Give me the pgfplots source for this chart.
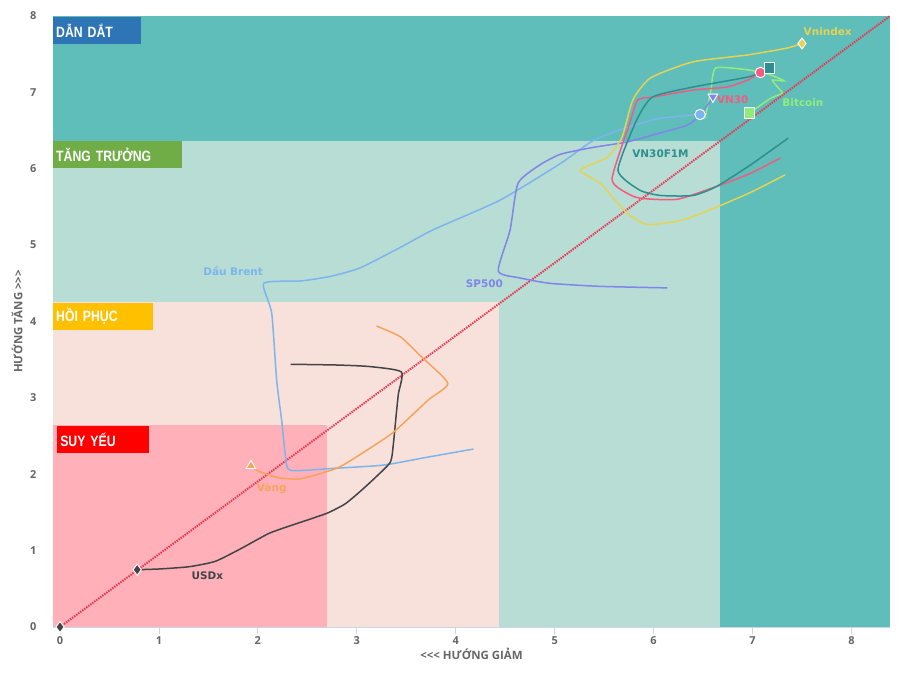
\documentclass[border=0pt]{standalone}
\usepackage{fontspec}
\setmainfont{Open Sans}
\newfontfamily\lab{DejaVu Sans}
\newfontfamily\boxfont[FakeStretch=0.82]{Liberation Sans}
\usepackage{pgfplots}
\pgfplotsset{compat=1.18}

\definecolor{bgteal}{RGB}{95,189,186}
\definecolor{bglteal}{RGB}{184,221,213}
\definecolor{bglpink}{RGB}{248,225,218}
\definecolor{bgpink}{RGB}{255,176,184}
\definecolor{boxblue}{RGB}{46,117,182}
\definecolor{boxgreen}{RGB}{112,173,71}
\definecolor{boxyellow}{RGB}{255,192,0}
\definecolor{boxred}{RGB}{255,0,0}
\definecolor{axisgray}{RGB}{204,214,235}
\definecolor{txtgray}{RGB}{102,102,102}
\definecolor{cbrent}{HTML}{7CB5EC}
\definecolor{cusd}{HTML}{434348}
\definecolor{cbtc}{HTML}{90ED7D}
\definecolor{cgold}{HTML}{F7A35C}
\definecolor{csp}{HTML}{8085E9}
\definecolor{cvn30}{HTML}{F15C80}
\definecolor{cvni}{HTML}{E4D354}
\definecolor{cf1m}{HTML}{2B908F}
\definecolor{diag}{RGB}{230,60,85}

\begin{document}
\begin{tikzpicture}
\begin{axis}[
    scale only axis, width=837bp, height=611bp,
    xmin=-0.071, xmax=8.39, ymin=0, ymax=8,
    clip=false, axis on top,
    axis x line*=bottom, axis y line*=left,
    x axis line style={draw=axisgray, line width=0.8pt, -},
    y axis line style={draw=none},
    xtick={0,...,8}, ytick={0,...,8},
    tick align=outside, major tick length=7bp,
    x tick style={draw=axisgray, line width=0.8pt},
    y tick style={draw=none},
    /pgf/number format/assume math mode=true,
    tick label style={font=\bfseries\fontsize{11}{13}\selectfont, text=txtgray},
    xticklabel style={yshift=1bp},
    yticklabel style={xshift=-6bp},
    xlabel={{<}{<}{<} HƯỚNG GIẢM},
    ylabel={HƯỚNG TĂNG {>}{>}{>}},
    label style={font=\bfseries\fontsize{11.5}{13}\selectfont, text=txtgray},
    xlabel style={yshift=3bp},
    ylabel style={yshift=1bp},
    every axis plot/.append style={line width=1.5bp},
]
% quadrants
\addplot[fill=bgteal, draw=none, line width=0] coordinates {(-0.071,0) (8.39,0) (8.39,8) (-0.071,8)} -- cycle;
\addplot[fill=bglteal, draw=none, line width=0] coordinates {(-0.071,0) (6.67,0) (6.67,6.36) (-0.071,6.36)} -- cycle;
\addplot[fill=bglpink, draw=none, line width=0] coordinates {(-0.071,0) (4.44,0) (4.44,4.25) (-0.071,4.25)} -- cycle;
\addplot[fill=bgpink, draw=none, line width=0] coordinates {(-0.071,0) (2.70,0) (2.70,2.64) (-0.071,2.64)} -- cycle;

% diagonal
\addplot[diag, densely dotted, line width=2bp] coordinates {(0,0) (8.39,8)};

% Dau Brent
\addplot[cbrent, smooth, tension=0.35] coordinates {
(4.18,2.33) (3.70,2.22) (3.27,2.12) (2.80,2.08) (2.33,2.05) (2.28,2.23) (2.24,2.71)
(2.19,3.23) (2.14,4.11) (2.06,4.50) (2.43,4.53) (2.73,4.59) (3.03,4.70) (3.44,4.97)
(3.77,5.20) (4.45,5.59) (5.06,6.07) (5.39,6.37) (5.73,6.54) (6.07,6.66) (6.47,6.71)};
% USDx
\addplot[cusd, smooth, tension=0.35] coordinates {
(2.33,3.44) (2.80,3.43) (3.13,3.41) (3.45,3.34) (3.42,3.05) (3.40,2.80) (3.37,2.40)
(3.34,2.16) (3.19,1.96) (3.03,1.77) (2.88,1.61) (2.70,1.49) (2.43,1.37) (2.12,1.23)
(1.82,1.02) (1.57,0.86) (1.31,0.79) (1.01,0.76) (0.78,0.75)};
% Bitcoin
\addplot[cbtc, smooth, tension=0.35] coordinates {
(6.52,6.66) (6.58,7.03) (6.63,7.32) (6.98,7.29) (7.18,7.23) (7.32,7.15) (7.20,7.16)
(7.26,7.06) (7.30,6.99) (7.18,6.92) (6.97,6.73)};
% Vang
\addplot[cgold, smooth, tension=0.35] coordinates {
(3.20,3.94) (3.44,3.80) (3.66,3.53) (3.92,3.19) (3.72,2.97) (3.37,2.55) (3.06,2.28)
(2.80,2.08) (2.43,1.94) (2.19,1.96) (1.99,2.05) (1.93,2.11)};
% SP500
\addplot[csp, smooth, tension=0.35] coordinates {
(6.14,4.44) (5.46,4.46) (4.95,4.50) (4.65,4.57) (4.43,4.66) (4.55,5.20) (4.63,5.81)
(4.85,6.05) (5.06,6.19) (5.39,6.28) (5.73,6.35) (6.07,6.47) (6.34,6.57) (6.47,6.70) (6.60,6.94)};
% VN30
\addplot[cvn30, smooth, tension=0.35] coordinates {
(7.28,6.14) (6.98,5.94) (6.64,5.77) (6.24,5.60) (5.89,5.61) (5.76,5.66) (5.58,5.86)
(5.76,6.60) (5.84,6.90) (6.00,6.94) (6.40,7.03) (6.74,7.07) (6.95,7.16) (7.08,7.26)};
% Vnindex
\addplot[cvni, smooth, tension=0.35] coordinates {
(7.33,5.92) (6.98,5.69) (6.64,5.50) (6.30,5.33) (5.94,5.27) (5.73,5.42) (5.46,5.81)
(5.26,5.98) (5.53,6.15) (5.68,6.41) (5.79,6.90) (5.97,7.19) (6.40,7.40) (6.95,7.49)
(7.35,7.58) (7.50,7.64)};
% VN30F1M
\addplot[cf1m, smooth, tension=0.35] coordinates {
(7.36,6.40) (6.98,6.05) (6.64,5.77) (6.40,5.65) (6.07,5.65) (5.86,5.72) (5.64,5.98)
(5.83,6.64) (5.99,6.94) (6.40,7.07) (6.95,7.20) (7.08,7.26) (7.17,7.32)};

% head markers
\addplot[only marks, mark=diamond*, mark size=5.5bp, fill=cusd, draw=white, line width=0.9bp] coordinates {(0.78,0.75) (0,0)};
\addplot[only marks, mark=triangle*, mark size=5.5bp, fill=cgold, draw=white, line width=0.9bp] coordinates {(1.93,2.11)};
\addplot[only marks, mark=*, mark size=5.2bp, fill=cbrent, draw=white, line width=0.9bp] coordinates {(6.47,6.71)};
\addplot[only marks, mark=triangle*, mark options={rotate=180}, mark size=5.5bp, fill=csp, draw=white, line width=0.9bp] coordinates {(6.60,6.94)};
\addplot[only marks, mark=*, mark size=5.2bp, fill=cvn30, draw=white, line width=0.9bp] coordinates {(7.08,7.26)};
\addplot[only marks, mark=square*, mark size=5.2bp, fill=cf1m, draw=white, line width=0.9bp] coordinates {(7.17,7.32)};
\addplot[only marks, mark=square*, mark size=5.2bp, fill=cbtc, draw=white, line width=0.9bp] coordinates {(6.97,6.73)};
\addplot[only marks, mark=diamond*, mark size=5.5bp, fill=cvni, draw=white, line width=0.9bp] coordinates {(7.50,7.64)};

% series labels
\begin{scope}[every node/.style={font=\lab\bfseries\fontsize{10.5}{12}\selectfont}]
\node[text=cvni] at (axis cs:7.76,7.79) {Vnindex};
\node[text=cvn30] at (axis cs:6.80,6.91) {VN30};
\node[text=cbtc] at (axis cs:7.51,6.86) {Bitcoin};
\node[text=cf1m] at (axis cs:6.07,6.20) {VN30F1M};
\node[text=csp] at (axis cs:4.29,4.50) {SP500};
\node[text=cbrent] at (axis cs:1.75,4.66) {Dầu Brent};
\node[text=cgold] at (axis cs:2.14,1.81) {Vàng};
\node[text=cusd] at (axis cs:1.49,0.67) {USDx};
\end{scope}

% quadrant tags
\begin{scope}[every node/.style={anchor=north west, text=white, inner sep=0pt,
    minimum height=27bp, align=left, font=\boxfont\bfseries\fontsize{15}{17}\selectfont}]
\node[fill=boxblue, text width=82bp, minimum width=88bp, inner xsep=3bp] at (axis cs:-0.071,7.99) {DẪN DẮT};
\node[fill=boxgreen, text width=123bp, minimum width=129bp, inner xsep=3bp] at (axis cs:-0.071,6.36) {TĂNG TRƯỞNG};
\node[fill=boxyellow, text width=94bp, minimum width=100bp, inner xsep=3bp] at (axis cs:-0.071,4.25) {HỒI PHỤC};
\node[fill=boxred, text width=86bp, minimum width=92bp, inner xsep=3bp] at (axis cs:-0.03,2.63) {SUY YẾU};
\end{scope}
\end{axis}
\path ([shift={(-53bp,-55bp)}]current axis.south west) rectangle ([shift={(13bp,16bp)}]current axis.north east);
\end{tikzpicture}
\end{document}
